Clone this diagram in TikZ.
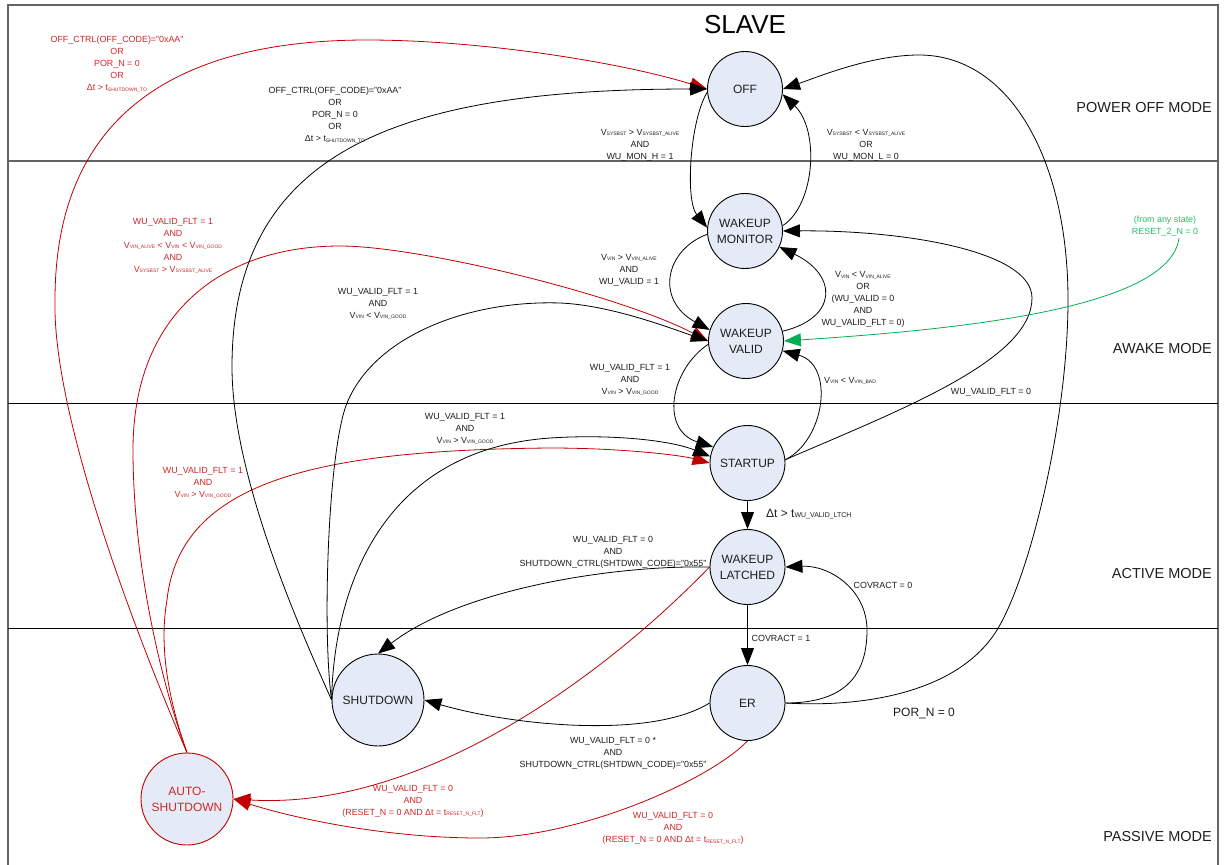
\documentclass[tikz,border=0pt]{standalone}
\usepackage{fontspec}
\setmainfont{Liberation Sans}
\usetikzlibrary{arrows.meta}

\definecolor{linered}{RGB}{192,0,0}
\definecolor{textred}{RGB}{204,40,40}
\definecolor{linegreen}{RGB}{0,176,80}
\definecolor{textgreen}{RGB}{40,190,100}
\definecolor{statefill}{RGB}{229,235,246}
\definecolor{framegray}{RGB}{100,100,100}
\definecolor{ink}{RGB}{30,30,30}

% small subscripts used in the transition conditions
\newcommand{\sbs}[1]{\raisebox{-0.6pt}{\fontsize{5}{5}\selectfont #1}}
\newcommand{\bigsbs}[1]{\raisebox{-0.8pt}{\fontsize{7}{7}\selectfont #1}}

\tikzset{
  state/.style={circle, draw=black, line width=0.9pt, fill=statefill,
    minimum size=75pt, inner sep=0pt, align=center,
    font=\fontsize{12}{16}\selectfont, text=ink},
  bigstate/.style={state, minimum size=92pt},
  cond/.style={align=center, font=\fontsize{8.9}{12}\selectfont, text=ink, inner sep=0pt},
  condred/.style={cond, text=textred},
  condgreen/.style={cond, text=textgreen},
  modelabel/.style={anchor=east, font=\fontsize{14.5}{17}\selectfont, text=ink, inner sep=0pt},
  trans/.style={line width=0.8pt, draw=black, -{Triangle[length=17pt,width=13pt]}},
  transred/.style={trans, draw=linered},
  transgreen/.style={trans, draw=linegreen},
}

\begin{document}
\begin{tikzpicture}[x=1pt,y=-1pt]
\useasboundingbox (0,0) rectangle (1224,865);

% frame and mode bands
\draw[framegray, line width=1.5pt] (8,866) -- (8,5) -- (1218,5) -- (1218,866);
\draw[framegray, line width=1.3pt] (8,161) -- (1218,161);
\draw[black, line width=0.9pt] (8,403) -- (1218,403);
\draw[black, line width=0.9pt] (8,628) -- (1218,628);

\node[font=\fontsize{26}{30}\selectfont, text=black, inner sep=0pt] (title) at (745,25) {SLAVE};
\node[modelabel] (mpoff) at (1212,108) {POWER OFF MODE};
\node[modelabel] (mawake) at (1212,349) {AWAKE MODE};
\node[modelabel] (mactive) at (1212,573) {ACTIVE MODE};
\node[modelabel] (mpassive) at (1212,836) {PASSIVE MODE};

% states
\node[state] (off)   at (745,89)    {OFF};
\node[state] (mon)   at (745,231)   {WAKEUP\\MONITOR};
\node[state] (val)   at (746,341)   {WAKEUP\\VALID};
\node[state] (start) at (747.5,463) {STARTUP};
\node[state] (latch) at (747.5,567) {WAKEUP\\LATCHED};
\node[state] (er)    at (747.5,703) {ER};
\node[bigstate] (shut) at (378,700) {SHUTDOWN};
\node[bigstate, draw=linered, text=textred] (auto) at (187,799) {AUTO-\\SHUTDOWN};

% condition labels
\node[condred] (lbloffr) at (117,64) {OFF\_CTRL(OFF\_CODE)="0xAA"\\OR\\POR\_N = 0\\OR\\Δt > t\sbs{SHUTDOWN\_TO}};
\node[cond] (lbloffb) at (335,115) {OFF\_CTRL(OFF\_CODE)="0xAA"\\OR\\POR\_N = 0\\OR\\Δt > t\sbs{SHUTDOWN\_TO}};
\node[cond] (lbloffmon) at (640,145) {V\sbs{SYSBST} > V\sbs{SYSBST\_ALIVE}\\AND\\WU\_MON\_H = 1};
\node[cond] (lblmonoff) at (866,145) {V\sbs{SYSBST} < V\sbs{SYSBST\_ALIVE}\\OR\\WU\_MON\_L = 0};
\node[condred] (lblautoval) at (173,246) {WU\_VALID\_FLT = 1\\AND\\V\sbs{VIN\_ALIVE} < V\sbs{VIN} < V\sbs{VIN\_GOOD}\\AND\\V\sbs{SYSBST} > V\sbs{SYSBST\_ALIVE}};
\node[cond] (lblshutval) at (378,304) {WU\_VALID\_FLT = 1\\AND\\V\sbs{VIN} < V\sbs{VIN\_GOOD}};
\node[cond] (lblmonval) at (629,270) {V\sbs{VIN} > V\sbs{VIN\_ALIVE}\\AND\\WU\_VALID = 1};
\node[cond] (lblvalmon) at (863,299.5) {V\sbs{VIN} < V\sbs{VIN\_ALIVE}\\OR\\(WU\_VALID = 0\\AND\\WU\_VALID\_FLT = 0)};
\node[condgreen] (reset2) at (1165,226.5) {(from any state)\\RESET\_2\_N = 0};
\node[cond] (lblvalstart) at (630,380) {WU\_VALID\_FLT = 1\\AND\\V\sbs{VIN} > V\sbs{VIN\_GOOD}};
\node[cond] (lblstartval) at (850,381) {V\sbs{VIN} < V\sbs{VIN\_BAD}};
\node[cond] (lblstartmon) at (991,392) {WU\_VALID\_FLT = 0};
\node[cond] (lblshutstart) at (465,429) {WU\_VALID\_FLT = 1\\AND\\V\sbs{VIN} > V\sbs{VIN\_GOOD}};
\node[condred] (lblautostart) at (203,483) {WU\_VALID\_FLT = 1\\AND\\V\sbs{VIN} > V\sbs{VIN\_GOOD}};
\node[anchor=west, font=\fontsize{12}{14}\selectfont, text=ink, inner sep=0pt] (lbllatch) at (766,514) {Δt > t\bigsbs{WU\_VALID\_LTCH}};
\node[cond] (lbllatchshut) at (613,552) {WU\_VALID\_FLT = 0\\AND\\SHUTDOWN\_CTRL(SHTDWN\_CODE)="0x55"};
\node[cond] (lblerlatch) at (883,585) {COVRACT = 0};
\node[cond] (lbllatcher) at (781,638) {COVRACT = 1};
\node[cond, font=\fontsize{12}{14}\selectfont] (lblpor) at (924,713) {POR\_N = 0};
\node[cond] (lblershut) at (613,753) {WU\_VALID\_FLT = 0 *\\AND\\SHUTDOWN\_CTRL(SHTDWN\_CODE)="0x55"};
\node[condred] (lbllatchauto) at (413,801) {WU\_VALID\_FLT = 0\\AND\\(RESET\_N = 0 AND Δt = t\sbs{RESET\_N\_FLT})};
\node[condred] (lblerauto) at (673,828.5) {WU\_VALID\_FLT = 0\\AND\\(RESET\_N = 0 AND Δt = t\sbs{RESET\_N\_FLT})};

% auto-shutdown exits (red)
\draw[transred] (auto.north) .. controls (150,668) and (52,425) .. (55,300)
  .. controls (55,120) and (170,40) .. (367,40)
  .. controls (480,40) and (620,62) .. (off.west);
\draw[transred] (auto.north) .. controls (160,680) and (133,560) .. (133,450)
  .. controls (133,315) and (220,246) .. (340,246)
  .. controls (420,246) and (620,295) .. (val.west);
\draw[transred] (auto.north) .. controls (165,690) and (160,640) .. (167,600)
  .. controls (180,480) and (320,450) .. (550,448)
  .. controls (620,448) and (680,455) .. (start.west);

% shutdown exits
\draw[trans] (shut.west) .. controls (305,640) and (232,480) .. (232,367)
  .. controls (232,150) and (400,89) .. (off.west);
\draw[trans] (shut.west) .. controls (322,630) and (328,450) .. (347,403)
  .. controls (375,335) and (470,300) .. (560,303)
  .. controls (610,305) and (670,328) .. (val.west);
\draw[trans] (shut.west) .. controls (334,590) and (380,450) .. (550,438)
  .. controls (610,434) and (670,440) .. (start.170);

% entries into auto-shutdown
\draw[transred] (latch.west) .. controls (600,680) and (420,810) .. (auto.east);
\draw[transred] (er.south) .. controls (710,780) and (580,838) .. (480,838)
  .. controls (390,838) and (300,820) .. (auto.east);

% entries into shutdown
\draw[trans] (latch.west) .. controls (610,565) and (460,590) .. (shut.north);
\draw[trans] (er.west) .. controls (650,740) and (510,725) .. (shut.east);

% central column
\draw[trans] (off.185) .. controls (690,120) and (685,200) .. (mon.175);
\draw[trans] (mon.8) .. controls (815,205) and (820,130) .. (off.-8);
\draw[trans] (mon.185) .. controls (665,250) and (655,300) .. (val.163);
\draw[trans] (val.15) .. controls (838,318) and (838,275) .. (mon.-25);
\draw[trans] (val.185) .. controls (670,370) and (660,430) .. (start.155);
\draw[trans] (start.5) .. controls (825,440) and (835,365) .. (val.-15);
\draw[trans] (start.5) .. controls (900,410) and (1032,360) .. (1032,298)
  .. controls (1032,250) and (900,230) .. (mon.east);
\draw[trans] (start.south) -- (latch.north);
\draw[trans] (latch.south) -- (er.north);
\draw[trans] (er.east) .. controls (840,703) and (867,680) .. (867,630)
  .. controls (867,590) and (830,565) .. (latch.east);
\draw[trans] (er.east) .. controls (870,708) and (960,690) .. (997,630)
  .. controls (1030,576) and (1068,420) .. (1068,300)
  .. controls (1068,160) and (1010,55) .. (919,55)
  .. controls (870,55) and (815,78) .. (off.east);

% reset from any state
\coordinate (gsrc) at (1179,238);
\draw[transgreen] (gsrc) .. controls (1170,310) and (950,330) .. (val.east);
\end{tikzpicture}
\end{document}
